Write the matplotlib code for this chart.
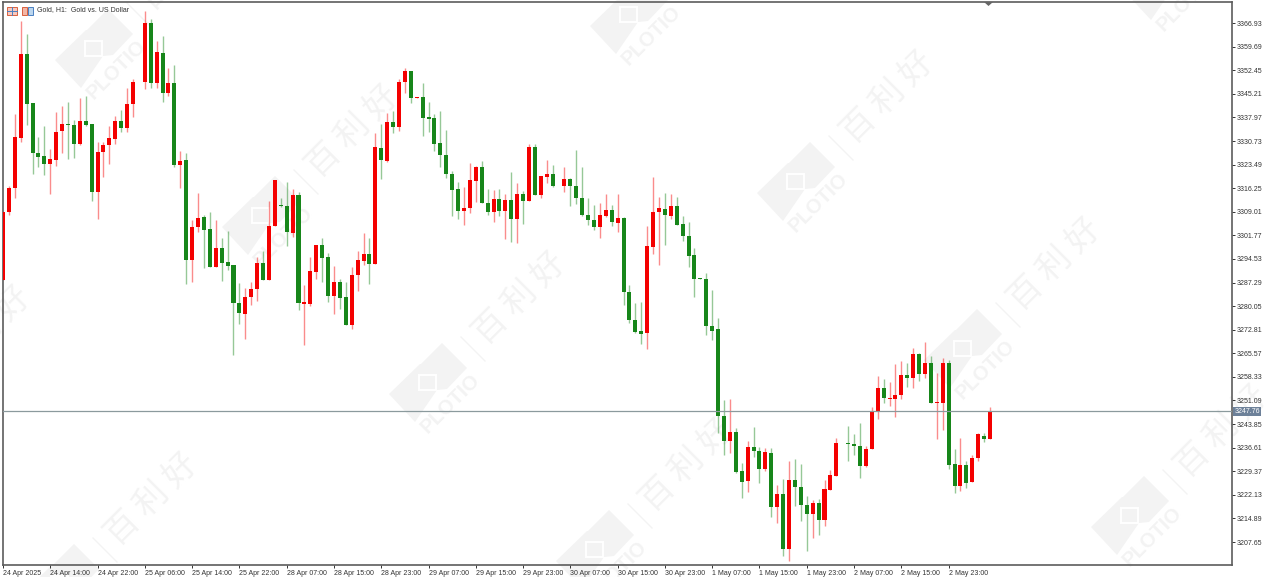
import numpy as np
import matplotlib
matplotlib.use("Agg")
import matplotlib.pyplot as plt
from matplotlib.patches import Polygon, Rectangle
from matplotlib.lines import Line2D
from matplotlib.transforms import Affine2D

# hourly gold candles
opens = [
    3288.1, 3309.0, 3316.3, 3331.6, 3357.5, 3342.4, 3327.0, 3326.1, 3323.7, 3324.9,
    3333.8, 3335.9, 3335.6, 3329.8, 3336.9, 3335.9, 3315.1, 3327.4, 3329.5, 3331.3,
    3336.9, 3334.7, 3342.1, 3348.8, 3348.8, 3366.9, 3348.5, 3357.7, 3345.5, 3348.5,
    3323.4, 3324.9, 3294.2, 3304.3, 3307.4, 3303.7, 3292.1, 3297.9, 3293.6, 3292.7,
    3281.0, 3277.6, 3282.8, 3285.3, 3293.3, 3288.1, 3304.6, 3311.1, 3310.8, 3302.5,
    3314.2, 3280.7, 3280.7, 3290.5, 3298.8, 3295.1, 3283.2, 3287.5, 3282.8, 3274.3,
    3289.6, 3293.9, 3296.0, 3293.0, 3328.6, 3324.6, 3336.6, 3335.0, 3348.8, 3352.2,
    3344.0, 3344.2, 3338.1, 3337.8, 3330.1, 3326.4, 3320.6, 3316.0, 3309.2, 3310.2,
    3318.5, 3322.7, 3311.7, 3309.0, 3312.9, 3309.2, 3312.6, 3306.8, 3314.5, 3312.3,
    3328.9, 3314.2, 3319.7, 3320.6, 3316.9, 3316.9, 3319.1, 3316.9, 3313.2, 3308.0,
    3306.5, 3304.3, 3307.7, 3309.6, 3305.6, 3307.1, 3284.4, 3275.8, 3272.4, 3271.8,
    3298.2, 3309.0, 3309.9, 3307.7, 3310.8, 3305.3, 3301.6, 3295.7, 3288.7, 3288.4,
    3274.0, 3273.0, 3246.3, 3238.7, 3241.4, 3229.5, 3226.4, 3236.8, 3235.6, 3230.1,
    3235.0, 3218.4, 3222.4, 3205.5, 3226.7, 3224.5, 3219.0, 3216.3, 3219.6, 3214.4,
    3223.6, 3227.9, 3238.1, 3238.1, 3237.7, 3237.1, 3231.0, 3236.2, 3247.9, 3255.0,
    3251.6, 3251.6, 3252.8, 3258.9, 3258.0, 3265.4, 3259.2, 3262.6, 3250.3, 3250.3,
    3262.6, 3231.6, 3224.8, 3231.3, 3226.1, 3233.4, 3240.2, 3239.3,
]
highs = [
    3309.0, 3316.9, 3339.0, 3367.6, 3363.6, 3342.4, 3332.0, 3335.3, 3328.3, 3339.6,
    3341.5, 3342.7, 3337.2, 3343.9, 3344.5, 3335.9, 3330.4, 3330.4, 3335.3, 3338.4,
    3340.2, 3347.0, 3349.8, 3348.8, 3370.6, 3368.2, 3361.4, 3363.0, 3353.1, 3354.1,
    3327.7, 3327.0, 3306.5, 3314.8, 3308.0, 3309.0, 3306.5, 3301.0, 3303.1, 3292.7,
    3287.1, 3285.6, 3287.5, 3295.1, 3297.0, 3312.3, 3318.8, 3313.2, 3318.1, 3316.0,
    3315.1, 3286.5, 3295.1, 3298.8, 3301.0, 3296.4, 3292.4, 3288.4, 3287.5, 3292.1,
    3297.0, 3302.5, 3301.0, 3333.2, 3335.9, 3339.3, 3339.9, 3349.8, 3353.1, 3352.2,
    3344.2, 3348.5, 3342.7, 3339.0, 3339.9, 3334.1, 3321.5, 3318.1, 3316.6, 3324.0,
    3323.1, 3324.6, 3316.0, 3315.7, 3316.0, 3314.5, 3321.2, 3317.8, 3315.4, 3329.8,
    3329.8, 3320.0, 3324.9, 3323.4, 3316.9, 3322.7, 3319.4, 3328.0, 3322.7, 3313.2,
    3311.1, 3311.7, 3314.5, 3311.1, 3314.5, 3307.4, 3286.5, 3281.0, 3281.3, 3304.6,
    3319.7, 3313.5, 3314.8, 3314.5, 3313.5, 3307.7, 3305.9, 3297.9, 3288.7, 3290.2,
    3285.0, 3276.4, 3251.2, 3251.5, 3242.6, 3231.9, 3238.7, 3242.9, 3236.8, 3236.5,
    3236.5, 3225.2, 3227.0, 3232.5, 3233.1, 3231.6, 3221.8, 3220.6, 3220.9, 3226.7,
    3229.8, 3239.6, 3238.1, 3243.2, 3240.8, 3244.2, 3237.1, 3249.1, 3258.6, 3257.7,
    3256.8, 3262.3, 3263.2, 3262.6, 3267.2, 3265.7, 3269.1, 3264.7, 3259.5, 3264.1,
    3263.5, 3236.2, 3239.6, 3232.5, 3234.4, 3241.1, 3241.1, 3249.1,
]
lows = [
    3288.1, 3308.0, 3313.2, 3330.4, 3335.6, 3320.6, 3322.7, 3320.3, 3314.5, 3323.1,
    3327.0, 3325.2, 3325.5, 3329.5, 3335.3, 3312.3, 3306.8, 3319.7, 3323.7, 3329.8,
    3333.5, 3333.5, 3338.1, 3348.7, 3346.7, 3347.0, 3347.0, 3342.7, 3344.5, 3322.7,
    3316.3, 3286.8, 3287.5, 3302.8, 3291.8, 3292.1, 3292.1, 3287.8, 3291.1, 3265.1,
    3274.6, 3270.0, 3280.4, 3281.6, 3288.1, 3288.1, 3304.6, 3310.5, 3298.5, 3301.3,
    3278.9, 3268.1, 3280.1, 3288.4, 3287.5, 3281.3, 3277.6, 3279.2, 3274.3, 3273.0,
    3284.7, 3292.7, 3286.8, 3293.0, 3319.1, 3324.3, 3333.2, 3333.8, 3345.5, 3342.4,
    3344.0, 3332.3, 3333.5, 3327.7, 3322.7, 3319.4, 3307.7, 3306.8, 3304.9, 3308.6,
    3312.0, 3311.7, 3308.0, 3305.9, 3307.7, 3300.6, 3299.7, 3299.4, 3305.3, 3312.3,
    3314.2, 3313.2, 3317.8, 3316.6, 3316.8, 3315.1, 3310.8, 3311.4, 3307.7, 3304.9,
    3303.4, 3301.0, 3307.4, 3304.6, 3302.8, 3280.4, 3274.9, 3271.8, 3268.4, 3266.9,
    3296.0, 3292.7, 3298.8, 3306.8, 3304.9, 3300.0, 3292.1, 3282.8, 3288.5, 3271.2,
    3269.7, 3241.1, 3234.4, 3235.0, 3228.8, 3221.2, 3223.0, 3233.7, 3225.8, 3229.5,
    3215.3, 3213.5, 3203.4, 3201.8, 3218.7, 3214.1, 3204.9, 3208.9, 3209.8, 3212.6,
    3223.6, 3227.9, 3238.0, 3232.5, 3234.4, 3227.3, 3230.7, 3236.2, 3245.4, 3250.3,
    3249.4, 3246.0, 3251.6, 3255.2, 3254.9, 3257.1, 3258.0, 3250.3, 3239.2, 3242.0,
    3230.1, 3222.7, 3223.3, 3224.2, 3226.1, 3232.5, 3238.4, 3239.3,
]
closes = [
    3309.0, 3316.3, 3332.0, 3357.5, 3342.1, 3327.0, 3325.8, 3323.7, 3325.2, 3333.5,
    3335.9, 3335.6, 3329.8, 3336.9, 3335.6, 3315.1, 3327.4, 3329.5, 3331.6, 3336.9,
    3334.7, 3342.1, 3348.8, 3348.7, 3366.9, 3348.5, 3358.0, 3345.5, 3348.5, 3323.4,
    3324.6, 3294.2, 3304.3, 3307.1, 3303.4, 3292.1, 3297.9, 3293.3, 3292.4, 3281.0,
    3277.9, 3282.8, 3285.3, 3293.3, 3288.1, 3304.6, 3318.8, 3310.8, 3302.8, 3314.2,
    3281.0, 3281.3, 3290.8, 3298.8, 3294.8, 3283.2, 3287.5, 3282.5, 3274.3, 3289.6,
    3294.2, 3296.0, 3293.0, 3328.9, 3324.9, 3336.6, 3335.0, 3348.8, 3352.2, 3343.9,
    3344.2, 3337.8, 3337.5, 3329.8, 3326.4, 3320.6, 3315.7, 3309.2, 3310.2, 3318.8,
    3322.7, 3311.7, 3309.0, 3312.9, 3309.2, 3312.6, 3306.8, 3314.5, 3312.3, 3328.9,
    3314.2, 3320.0, 3320.6, 3316.9, 3316.8, 3319.1, 3316.9, 3313.2, 3308.0, 3306.5,
    3304.3, 3308.0, 3309.6, 3305.9, 3307.1, 3284.4, 3275.8, 3272.1, 3271.5, 3298.5,
    3309.0, 3310.2, 3308.0, 3310.8, 3304.9, 3301.6, 3295.4, 3288.4, 3288.5, 3274.0,
    3272.4, 3246.3, 3238.7, 3241.4, 3229.1, 3226.1, 3236.8, 3235.6, 3230.1, 3235.3,
    3218.4, 3222.4, 3205.5, 3226.7, 3224.5, 3219.0, 3216.3, 3219.6, 3214.4, 3223.9,
    3228.2, 3238.1, 3238.0, 3237.7, 3237.1, 3231.0, 3236.2, 3247.9, 3255.0, 3251.9,
    3251.9, 3252.8, 3258.9, 3258.0, 3265.4, 3259.2, 3262.6, 3250.3, 3250.6, 3262.6,
    3231.3, 3224.8, 3231.3, 3225.8, 3233.4, 3240.8, 3239.3, 3247.76,
]

price_ticks = [
    3366.93, 3359.69, 3352.45, 3345.21, 3337.97, 3330.73, 3323.49, 3316.25,
    3309.01, 3301.77, 3294.53, 3287.29, 3280.05, 3272.81, 3265.57, 3258.33,
    3251.09, 3243.85, 3236.61, 3229.37, 3222.13, 3214.89, 3207.65,
]
time_labels = [
    "24 Apr 2025", "24 Apr 14:00", "24 Apr 22:00", "25 Apr 06:00", "25 Apr 14:00",
    "25 Apr 22:00", "28 Apr 07:00", "28 Apr 15:00", "28 Apr 23:00", "29 Apr 07:00",
    "29 Apr 15:00", "29 Apr 23:00", "30 Apr 07:00", "30 Apr 15:00", "30 Apr 23:00",
    "1 May 07:00", "1 May 15:00", "1 May 23:00", "2 May 07:00", "2 May 15:00",
    "2 May 23:00",
]
last_price = 3247.76
title = "Gold, H1:  Gold vs. US Dollar"

W, H = 1271, 577
UP = "#f40000"
DOWN = "#17861a"
MARK = "#f3f3f3"
FONT = ["Liberation Sans", "DejaVu Sans"]

plt.rcParams["font.family"] = FONT
fig = plt.figure(figsize=(W / 100, H / 100), dpi=100, facecolor="white")
# pixel coordinates for the window chrome and the watermark, origin top left
px = Affine2D().scale(1, -1).translate(0, H)


def watermark(cx, cy):
    outline = [(-38, 13), (-7, -17), (-6, -17), (15, -38), (40, -13),
               (20, 8), (10, 9), (-12, 41)]
    fig.add_artist(Polygon([(cx + a, cy + b) for a, b in outline], closed=True,
                           fc=MARK, ec="none", transform=px, zorder=-2))
    fig.add_artist(Rectangle((cx - 8, cy - 6), 17, 15, fc=MARK, ec="white", lw=1.4,
                             transform=px, zorder=-2))
    fig.add_artist(Line2D([cx + 34, cx + 58], [cy - 44, cy - 20], color=MARK, lw=1,
                          transform=px, zorder=-2))
    fig.text(cx + 23, cy + 23, "PLOTIO", transform=px, rotation=45, ha="center",
             va="center", rotation_mode="anchor", fontsize=14.5, weight="bold",
             color=MARK, zorder=-2)
    fig.text(cx + 93, cy - 83, "百 利 好", transform=px, rotation=45, ha="center",
             va="center", rotation_mode="anchor", fontsize=24, color=MARK,
             family=["Noto Sans CJK SC", "DejaVu Sans"], zorder=-2)


# the logo tiles along two lattice directions
for i in range(-3, 4):
    for j in range(-6, 12):
        cx = 93 + 167 * j + 535 * i
        cy = 47 + 167 * j - 34 * i
        if -150 < cx < W + 150 and -150 < cy < H + 150:
            watermark(cx, cy)

ax = fig.add_axes([3 / W, 1 - 565 / H, 1229 / W, 563 / H])
ax.set_facecolor("none")
ax.set_xlim(0, 207.95)
ax.set_ylim(3200.6, 3373.4)

x = np.arange(len(opens))
o = np.array(opens)
c = np.array(closes)
colors = [UP if b >= a else DOWN for a, b in zip(opens, closes)]

ax.vlines(x, lows, highs, colors=colors, linewidth=1.0, alpha=0.45, zorder=2)
ax.bar(x, np.abs(c - o), bottom=np.minimum(o, c), width=0.68, color=colors,
       linewidth=0, zorder=3)

ax.axhline(last_price, color="#8b9a9d", linewidth=0.9, zorder=4)

ax.yaxis.tick_right()
ax.set_yticks(price_ticks)
ax.set_yticklabels([f"{p:.2f}" for p in price_ticks])
ax.set_xticks(np.arange(len(time_labels)) * 8)
ax.set_xticklabels(time_labels, ha="left")
ax.tick_params(axis="y", length=2.4, width=0.7, pad=1, labelsize=5, colors="#333333")
ax.tick_params(axis="x", length=2.4, width=0.7, pad=1, labelsize=5, colors="#333333")
for spine in ax.spines.values():
    spine.set_color("#5c5c5c")
    spine.set_linewidth(1.2)

ax.text(1.0022, last_price, f"{last_price:.2f}", transform=ax.get_yaxis_transform(),
        ha="left", va="center", fontsize=5, color="white", zorder=6,
        bbox=dict(boxstyle="square,pad=0.18", fc="#6d8199", ec="none"))

# window title and its two small icons
fig.text(37, 10, title, transform=px, ha="left", va="center", fontsize=5, color="#333333")
fig.add_artist(Rectangle((7, 7), 10, 8, fc="#f6c9c0", ec="#d9603f", lw=0.7, transform=px))
fig.add_artist(Line2D([7, 17], [11, 11], color="#4a7fc1", lw=0.7, transform=px))
fig.add_artist(Line2D([12, 12], [7, 15], color="#4a7fc1", lw=0.7, transform=px))
fig.add_artist(Rectangle((22, 7), 5, 8, fc="#f3b6a6", ec="#d9603f", lw=0.7, transform=px))
fig.add_artist(Rectangle((28, 7), 5, 8, fc="#bcd6ee", ec="#4a7fc1", lw=0.7, transform=px))
# chart shift marker on the top edge
fig.add_artist(Polygon([(984, 2), (993, 2), (988.5, 6)], closed=True, fc="#666666",
                       ec="none", transform=px, zorder=5))

fig.savefig("out.png", dpi=100)
